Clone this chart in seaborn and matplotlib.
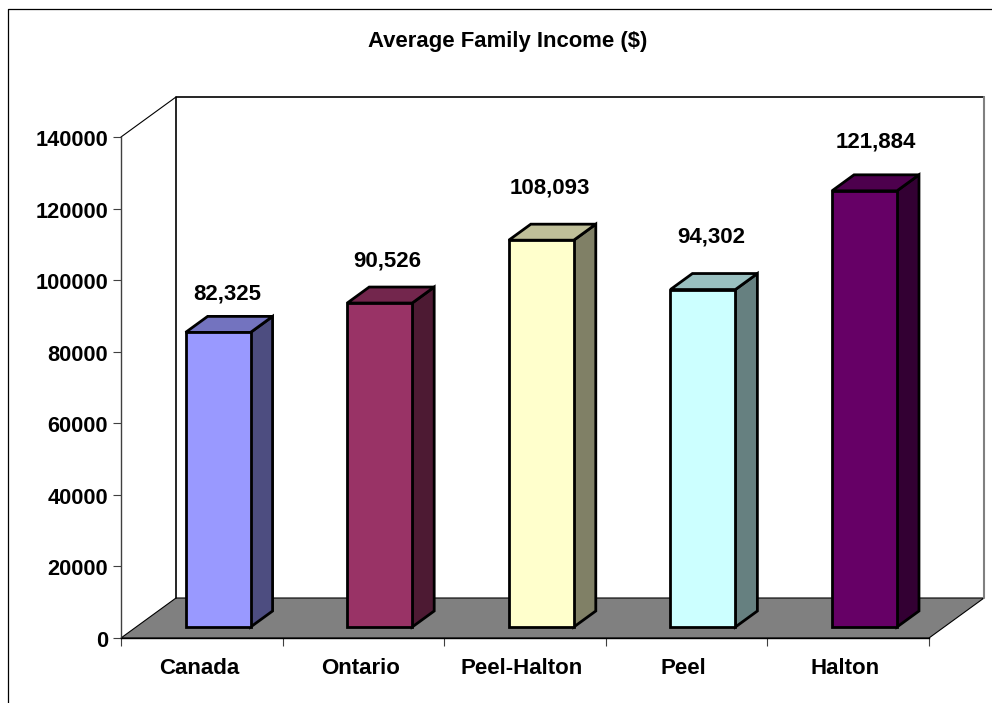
import matplotlib
matplotlib.use('Agg')
import matplotlib.pyplot as plt
import seaborn as sns
from matplotlib.lines import Line2D
from matplotlib.patches import Polygon
from matplotlib.transforms import ScaledTranslation

# Data
regions = ['Canada', 'Ontario', 'Peel-Halton', 'Peel', 'Halton']
income = [82325, 90526, 108093, 94302, 121884]
income_labels = ['82,325', '90,526', '108,093', '94,302', '121,884']
front_colors = ['#9999FF', '#993366', '#FFFFCC', '#CCFFFF', '#660066']
side_colors = ['#4D4D80', '#4D1A33', '#808066', '#668080', '#330033']
top_colors = ['#7373BF', '#73264D', '#BFBF99', '#99BFBF', '#4D004D']
y_ticks = [0, 20000, 40000, 60000, 80000, 100000, 120000, 140000]

sns.set_style('white')
plt.rcParams['font.family'] = ['Liberation Sans', 'DejaVu Sans']
plt.rcParams['font.weight'] = 'bold'
plt.rcParams['text.color'] = 'black'
plt.rcParams['xtick.labelcolor'] = 'black'
plt.rcParams['ytick.labelcolor'] = 'black'

W, H = 992, 703
fig = plt.figure(figsize=(W / 100, H / 100), dpi=100)

# axes = front plane of the old 3D style chart
ax = fig.add_axes([121 / W, (H - 638) / H, 808 / W, 501 / H])
sns.barplot(x=regions, y=income, hue=regions, palette=front_colors, width=0.402, saturation=1,
            edgecolor='black', linewidth=2, legend=False, ax=ax, zorder=3)
ax.set_xlim(-0.5, 4.5)
ax.set_ylim(0, 140000)

# pixel to data scale
px_x = 5 / 808
px_y = 140000 / 501

# back wall and floor, in axes fractions
wall_dx = 55 / 808
wall_dy = 40 / 501
ax.add_patch(Polygon([(0, 0), (1, 0), (1 + wall_dx, wall_dy), (wall_dx, wall_dy)],
                     transform=ax.transAxes, facecolor='#808080', edgecolor='black',
                     linewidth=0.8, clip_on=False, zorder=1))
ax.add_line(Line2D([wall_dx, wall_dx, 1 + wall_dx], [wall_dy, 1 + wall_dy, 1 + wall_dy],
                   transform=ax.transAxes, color='black', lw=1.2, clip_on=False, zorder=1))
ax.add_line(Line2D([1 + wall_dx, 1 + wall_dx], [wall_dy, 1 + wall_dy],
                   transform=ax.transAxes, color='#808080', lw=1.5, clip_on=False, zorder=1))
ax.add_line(Line2D([0, wall_dx], [1, 1 + wall_dy],
                   transform=ax.transAxes, color='black', lw=0.8, clip_on=False, zorder=1))

# move bars onto the floor and add the side and top faces
shift_x = 16.3 * px_x
shift_y = 11 * px_y
depth_x = 22 * px_x
depth_y = 16 * px_y
label_gap = [38, 42, 52, 53, 49]
label_dx = [9, 8, 9, 8, 11]
bars = [p for p in ax.patches if p.get_zorder() == 3]
for i, bar in enumerate(bars):
    bar.set_x(bar.get_x() + shift_x)
    bar.set_y(shift_y)
    bar.set_clip_on(False)
    bar.set_joinstyle('miter')
    x0 = bar.get_x()
    x1 = x0 + bar.get_width()
    y0 = shift_y
    y1 = y0 + bar.get_height()
    ax.add_patch(Polygon([(x1, y0), (x1 + depth_x, y0 + depth_y), (x1 + depth_x, y1 + depth_y), (x1, y1)],
                         facecolor=side_colors[i], edgecolor='black', linewidth=2,
                         joinstyle='miter', clip_on=False, zorder=2.5))
    ax.add_patch(Polygon([(x0, y1), (x0 + depth_x, y1 + depth_y), (x1 + depth_x, y1 + depth_y), (x1, y1)],
                         facecolor=top_colors[i], edgecolor='black', linewidth=2,
                         joinstyle='miter', clip_on=False, zorder=2.5))
    ax.annotate(income_labels[i], (x0 + bar.get_width() / 2, y1), xytext=(label_dx[i] * 0.72, label_gap[i] * 0.72),
                textcoords='offset points', ha='center', va='center', fontsize=16,
                fontweight='bold', color='black', zorder=5)

# axis lines and ticks
sns.despine(ax=ax)
ax.spines['left'].set_color('#404040')
ax.spines['left'].set_linewidth(1)
ax.spines['bottom'].set_color('black')
ax.spines['bottom'].set_linewidth(1)
ax.set_yticks(y_ticks)
ax.set_yticklabels([str(v) for v in y_ticks], fontsize=15.7, fontweight='bold')
ax.set_xticks([-0.5, 0.5, 1.5, 2.5, 3.5, 4.5])
ax.set_xticklabels([])
ax.set_xticks(range(5), labels=regions, minor=True)
ax.tick_params(axis='y', length=5.8, width=0.8, color='#404040', pad=3.6, left=True)
ax.tick_params(axis='x', which='major', length=5.8, width=0.8, color='#404040', bottom=True)
ax.tick_params(axis='x', which='minor', length=0, pad=14.5, labelsize=16)
nudge_x = ScaledTranslation(-3 / 100, 0, fig.dpi_scale_trans)
nudge_y = ScaledTranslation(0, -1 / 100, fig.dpi_scale_trans)
for lab in ax.get_xticklabels(minor=True):
    lab.set_fontweight('bold')
    lab.set_transform(lab.get_transform() + nudge_x)
for lab in ax.get_yticklabels():
    lab.set_transform(lab.get_transform() + nudge_y)

fig.text(508 / W, 1 - 42 / H, 'Average Family Income ($)', ha='center', va='center',
         fontsize=15.9, fontweight='bold', color='black')

# outer chart border (left and top only)
fig.add_artist(Line2D([8 / W, 8 / W, 1], [0, 1 - 8.5 / H, 1 - 8.5 / H], color='black', lw=0.9))

fig.savefig('out.png', dpi=100)
